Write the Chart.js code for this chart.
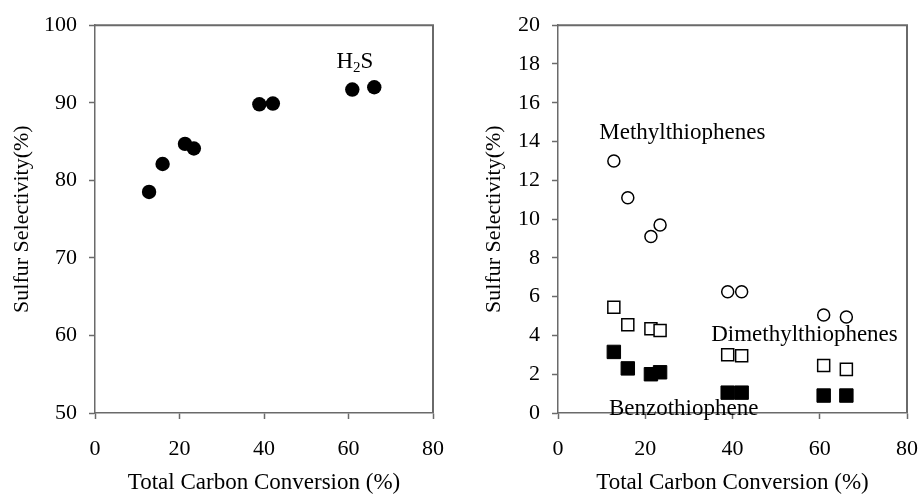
<!DOCTYPE html>
<html>
<head>
<meta charset="utf-8">
<script src="https://cdn.jsdelivr.net/npm/chart.js@4.4.1/dist/chart.umd.min.js"></script>
<style>
    html, body { margin: 0; padding: 0; background: #fff; overflow: hidden; }
    .panel { position: absolute; top: 0; height: 494px; }
    #leftPanel { left: 0; width: 460px; }
    #rightPanel { left: 460px; width: 459px; }
</style>
</head>
<body>
<div class="panel" id="leftPanel"><canvas id="leftChart"></canvas></div>
<div class="panel" id="rightPanel"><canvas id="rightChart"></canvas></div>
<script>
// --- Data ---
const conversion = [12.8, 16.0, 21.3, 23.4, 38.9, 42.1, 60.9, 66.1];
const h2sSelectivity = [78.5, 82.1, 84.7, 84.1, 89.8, 89.9, 91.7, 92.0];
const methylthiophenes = [13.0, 11.1, 9.1, 9.7, 6.25, 6.25, 5.05, 4.95];
const dimethylthiophenes = [5.45, 4.55, 4.35, 4.25, 3.0, 2.95, 2.45, 2.25];
const benzothiophene = [3.15, 2.3, 2.0, 2.1, 1.05, 1.05, 0.9, 0.9];

const xTicks = [0, 20, 40, 60, 80];
const leftYRange = [50, 100, 10];
const rightYRange = [0, 20, 2];

const leftLabels = [{ text: "H", sub: "2", after: "S", x: 61.5, y: 95.3 }];
const rightLabels = [
    { text: "Methylthiophenes", x: 28.5, y: 14.45 },
    { text: "Dimethylthiophenes", x: 56.5, y: 4.0 },
    { text: "Benzothiophene", x: 28.8, y: 0.2 }
];

const FONT = "'Liberation Serif', 'Times New Roman', serif";
const AXIS_GREY = "#6a6a6a";

const toPoints = ys => ys.map((y, i) => ({ x: conversion[i], y }));

// --- Frame on the top and right side of the plot ---
const framePlugin = {
    id: "frame",
    beforeDatasetsDraw(chart) {
        const { ctx, chartArea: a } = chart;
        ctx.save();
        ctx.strokeStyle = AXIS_GREY;
        ctx.lineWidth = 2;
        ctx.beginPath();
        ctx.moveTo(a.left, a.top);
        ctx.lineTo(a.right, a.top);
        ctx.lineTo(a.right, a.bottom);
        ctx.stroke();
        ctx.restore();
    }
};

// --- Text labels placed in data coordinates ---
const labelPlugin = {
    id: "labels",
    afterDatasetsDraw(chart, args, opts) {
        const { ctx, scales } = chart;
        ctx.save();
        ctx.fillStyle = "#000";
        ctx.textBaseline = "middle";
        (opts.items || []).forEach(l => {
            const px = scales.x.getPixelForValue(l.x);
            const py = scales.y.getPixelForValue(l.y);
            ctx.font = `23px ${FONT}`;
            if (l.sub) {
                const w1 = ctx.measureText(l.text).width;
                const w3 = ctx.measureText(l.after).width;
                ctx.font = `15px ${FONT}`;
                const w2 = ctx.measureText(l.sub).width;
                let x = px - (w1 + w2 + w3) / 2;
                ctx.font = `23px ${FONT}`;
                ctx.textAlign = "left";
                ctx.fillText(l.text, x, py);
                x += w1;
                ctx.font = `15px ${FONT}`;
                ctx.fillText(l.sub, x, py + 6);
                x += w2;
                ctx.font = `23px ${FONT}`;
                ctx.fillText(l.after, x, py);
            } else {
                ctx.textAlign = "center";
                ctx.fillText(l.text, px, py);
            }
        });
        ctx.restore();
    }
};

function axisOptions(range, yWidth, titlePad) {
    const tickFont = { family: FONT, size: 22 };
    return {
        x: {
            type: "linear",
            min: 0,
            max: 80,
            afterBuildTicks: s => { s.ticks = xTicks.map(v => ({ value: v })); },
            afterFit: s => {
                s.height = 81;
                s.paddingLeft = 0;
                s.paddingRight = 0;
            },
            grid: { drawOnChartArea: false, drawTicks: true, tickLength: 6, tickColor: AXIS_GREY, tickWidth: 1.5 },
            border: { display: true, color: AXIS_GREY, width: 1.5 },
            ticks: { color: "#000", font: tickFont, padding: 17, maxRotation: 0 },
            title: { display: true, text: "Total Carbon Conversion (%)", color: "#000", font: { family: FONT, size: 23, lineHeight: 1 }, padding: { top: 0, bottom: 0 } }
        },
        y: {
            type: "linear",
            min: range[0],
            max: range[1],
            ticks: { stepSize: range[2], color: "#000", font: tickFont, padding: 12 },
            afterFit: s => { s.width = yWidth; },
            grid: { drawOnChartArea: false, drawTicks: true, tickLength: 6, tickColor: AXIS_GREY, tickWidth: 1.5 },
            border: { display: true, color: AXIS_GREY, width: 1.5 },
            title: { display: true, text: "Sulfur Selectivity(%)", color: "#000", font: { family: FONT, size: 22 }, padding: { top: titlePad, bottom: 0 } }
        }
    };
}

function baseOptions(range, yWidth, titlePad, rightPad, labels) {
    return {
        responsive: true,
        maintainAspectRatio: false,
        animation: false,
        events: [],
        layout: { padding: { top: 21, right: rightPad, left: 0, bottom: 0 } },
        plugins: {
            legend: { display: false },
            tooltip: { enabled: false },
            labels: { items: labels }
        },
        scales: axisOptions(range, yWidth, titlePad)
    };
}

// --- Left panel: H2S ---
new Chart(document.getElementById("leftChart"), {
    type: "scatter",
    data: {
        datasets: [{
            label: "H2S",
            data: toPoints(h2sSelectivity),
            pointStyle: "circle",
            pointRadius: 7.2,
            backgroundColor: "#000",
            borderColor: "#000",
            borderWidth: 0
        }]
    },
    options: baseOptions(leftYRange, 95, 9, 27, leftLabels),
    plugins: [framePlugin, labelPlugin]
});

// --- Right panel: thiophenes ---
new Chart(document.getElementById("rightChart"), {
    type: "scatter",
    data: {
        datasets: [
            {
                label: "Methylthiophenes",
                data: toPoints(methylthiophenes),
                pointStyle: "circle",
                pointRadius: 6,
                backgroundColor: "#fff",
                borderColor: "#000",
                borderWidth: 1.5
            },
            {
                label: "Dimethylthiophenes",
                data: toPoints(dimethylthiophenes),
                pointStyle: "rect",
                pointRadius: 8.5,
                backgroundColor: "#fff",
                borderColor: "#000",
                borderWidth: 1.5
            },
            {
                label: "Benzothiophene",
                data: toPoints(benzothiophene),
                pointStyle: "rect",
                pointRadius: 9.5,
                backgroundColor: "#000",
                borderColor: "#000",
                borderWidth: 1
            }
        ]
    },
    options: baseOptions(rightYRange, 98, 21, 12, rightLabels),
    plugins: [framePlugin, labelPlugin]
});
</script>
</body>
</html>
